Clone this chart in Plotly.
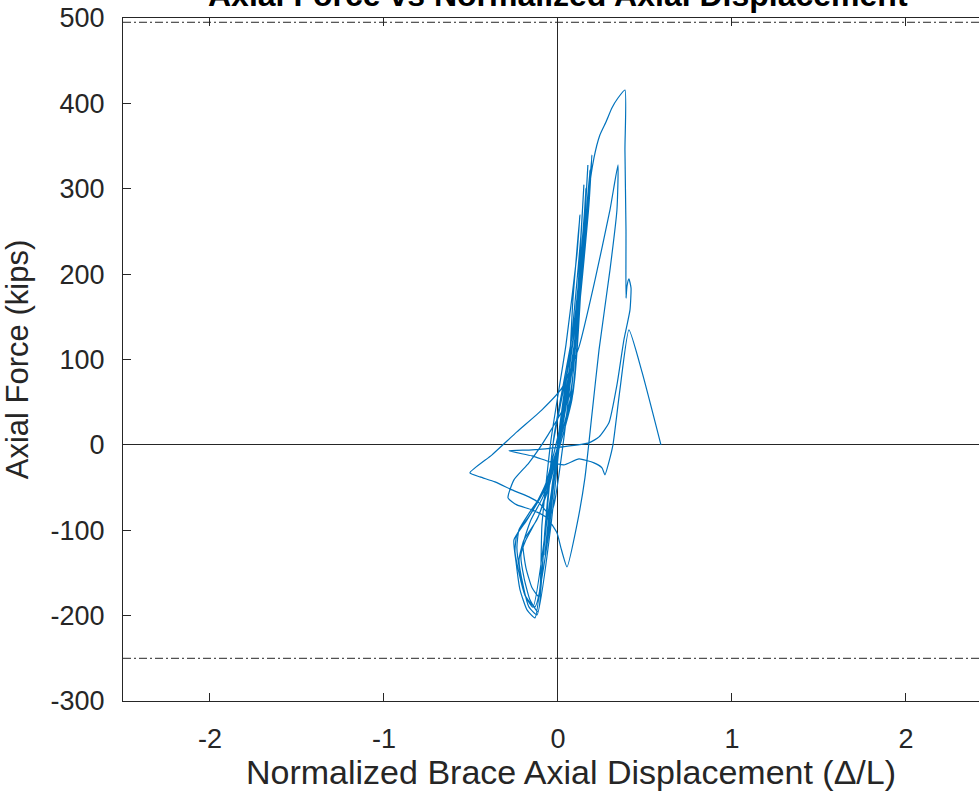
import plotly.graph_objects as go

# Brace hysteresis record: normalized axial displacement (Delta/L) and axial force (kips)
displacement = [
    0.000, 0.023, -0.023, 0.046, -0.040, 0.069, -0.057, 0.092, -0.075,
    -0.029, 0.052, 0.086, 0.126, 0.109, 0.046, -0.040, -0.092, -0.109,
    -0.149, -0.184, -0.201, -0.155, -0.086, -0.034,
    0.075, 0.115, 0.149, 0.132, 0.080, 0.000, -0.052, -0.132,
    -0.184, -0.218, -0.236, -0.224, -0.161, -0.075, -0.023,
    0.092, 0.138, 0.172, 0.155, 0.103, 0.017, -0.040, -0.121,
    -0.167, -0.201, -0.224, -0.195, -0.121, -0.057, -0.011,
    0.075, 0.149, 0.195, 0.178, 0.121, 0.029, -0.063, -0.132,
    -0.178, -0.218, -0.241, -0.253, -0.178, -0.092, -0.034,
    0.086, 0.130, 0.161, 0.144, 0.092, -0.023, -0.075, -0.144,
    -0.190, -0.224, -0.247, -0.236, -0.155, -0.069,
    0.069, 0.138, 0.184, 0.166, 0.109, 0.040, -0.023, -0.046,
    -0.109, -0.167, -0.264, -0.362, -0.448, -0.506,
    -0.379, -0.236, -0.092, 0.023, 0.121, 0.213, 0.299, 0.345,
    0.339, 0.299, 0.236, 0.195, 0.155, 0.109, 0.052, 0.017, -0.006,
    -0.063, -0.149, -0.236, -0.287, -0.253, -0.167, -0.057, 0.069,
    0.121, 0.161, 0.144, 0.086, -0.029, -0.075, -0.115,
    -0.161, -0.195, -0.213, -0.184, -0.109, -0.046,
    0.080, 0.132, 0.172, 0.207, 0.241, 0.276, 0.310, 0.345, 0.385,
    0.385, 0.391, 0.391, 0.397, 0.408, 0.420, 0.414, 0.397, 0.379,
    0.339, 0.293, 0.236, 0.178, 0.023, -0.149, -0.282,
    -0.149, -0.046, 0.034, 0.121, 0.207, 0.253, 0.270, 0.293, 0.316,
    0.356, 0.408, 0.483, 0.592,
]
axial_force = [
    0.0, 38.6, -38.6, 70.3, -73.8, 111.2, -99.5, 148.7, -128.8,
    -41.0, 52.7, 169.8, 269.3, 222.5, 117.1, 5.9, -93.7, -178.0,
    -167.4, -144.0, -117.1, -87.8, -60.9, -29.3,
    58.5, 181.5, 304.4, 245.9, 128.8, 5.9, -101.9, -189.7,
    -178.0, -148.7, -120.6, -99.5, -78.5, -52.7, -19.9,
    70.3, 204.9, 327.9, 269.3, 146.4, 17.6, -93.7, -199.1,
    -189.7, -163.9, -134.7, -111.2, -87.8, -52.7, -15.2,
    78.5, 222.5, 339.6, 281.0, 158.1, 29.3, -87.8, -202.6,
    -193.2, -169.8, -137.0, -111.2, -87.8, -58.5, -23.4,
    60.0, 190.0, 296.0, 250.0, 140.0, 10.0, -105.0, -190.0,
    -176.0, -150.0, -125.0, -105.0, -80.0, -45.0,
    76.1, 210.8, 322.0, 263.5, 146.4, 17.6, -70.3, -82.0,
    -67.9, -60.9, -52.7, -43.3, -37.5, -32.8,
    -11.7, 15.2, 41.0, 66.7, 114.8, 193.2, 275.2, 327.9,
    275.2, 204.9, 111.2, 35.1, -38.6, -93.7, -142.9, -120.6, -103.0,
    -85.5, -76.1, -70.3, -62.1, -41.0, -21.1, 11.7, 58.5,
    169.8, 300.9, 240.0, 123.0, 0.0, -99.5, -195.6,
    -181.5, -155.7, -128.8, -111.2, -82.0, -41.0,
    52.7, 181.5, 286.9, 336.1, 363.0, 378.2, 394.6, 406.3, 415.7,
    345.4, 251.8, 172.1, 186.2, 194.4, 183.8, 158.1, 140.5, 123.0,
    70.3, 25.8, 9.4, 2.3, -2.3, -5.9, -7.0,
    -12.9, -19.9, -23.4, -16.4, -21.1, -26.9, -35.1, -19.9, 0.0,
    64.4, 134.7, 85.5, 0.0,
]

# Reference capacity levels (kips)
tension_limit = 495
compression_limit = -250

x_ticks = [-2, -1, 0, 1, 2]
x_tick_labels = ["-2", "-1", "0", "1", "2"]
y_ticks = [-300, -200, -100, 0, 100, 200, 300, 400, 500]
y_tick_labels = ["-300", "-200", "-100", "0", "100", "200", "300", "400", "500"]
x_limits = [-2.5, 2.42]
y_limits = [-300, 500]

ink = "#262626"
font_family = "Liberation Sans, Arial, sans-serif"

fig = go.Figure()
fig.add_trace(go.Scatter(
    x=displacement, y=axial_force, mode="lines",
    line=dict(color="#0072BD", width=1.2, shape="spline", smoothing=0.5),
    showlegend=False, hoverinfo="skip",
))

for level in (tension_limit, compression_limit):
    fig.add_hline(y=level, line=dict(color=ink, width=1, dash="8px,3px,2px,3px"))

# Title sits above the axes box, centred on the full axes width
fig.add_annotation(
    text="<b>Axial Force vs Normalized Axial Displacement</b>",
    xref="x", x=0, yref="paper", y=1.034, yanchor="middle",
    showarrow=False, font=dict(family=font_family, size=32, color="#000000"),
)
# x-axis label, centred like the title on the full axes width
fig.add_annotation(
    text="Normalized Brace Axial Displacement (Δ/L)",
    xref="x", x=0.075, yref="paper", y=-0.104, yanchor="middle",
    showarrow=False, font=dict(family=font_family, size=34, color=ink),
)

axis_common = dict(
    showgrid=False, showline=True, linecolor=ink, linewidth=1,
    ticks="inside", ticklen=8, tickcolor=ink, tickwidth=1,
    zeroline=True, zerolinecolor=ink, zerolinewidth=1,
    tickfont=dict(family=font_family, size=27, color=ink),
)

fig.update_xaxes(
    **axis_common, range=x_limits, tickvals=x_ticks, ticktext=x_tick_labels,
    mirror="ticks", ticklabelstandoff=14,
)
fig.update_yaxes(
    **axis_common, range=y_limits, tickvals=y_ticks, ticktext=y_tick_labels,
    ticklabelstandoff=12,
    title=dict(text="Axial Force (kips)",
               font=dict(family=font_family, size=31, color=ink), standoff=16),
)

fig.update_layout(
    width=979, height=799,
    margin=dict(l=123, r=0, t=18, b=98, autoexpand=False),
    plot_bgcolor="white", paper_bgcolor="white",
)

fig.write_html("out.html")
